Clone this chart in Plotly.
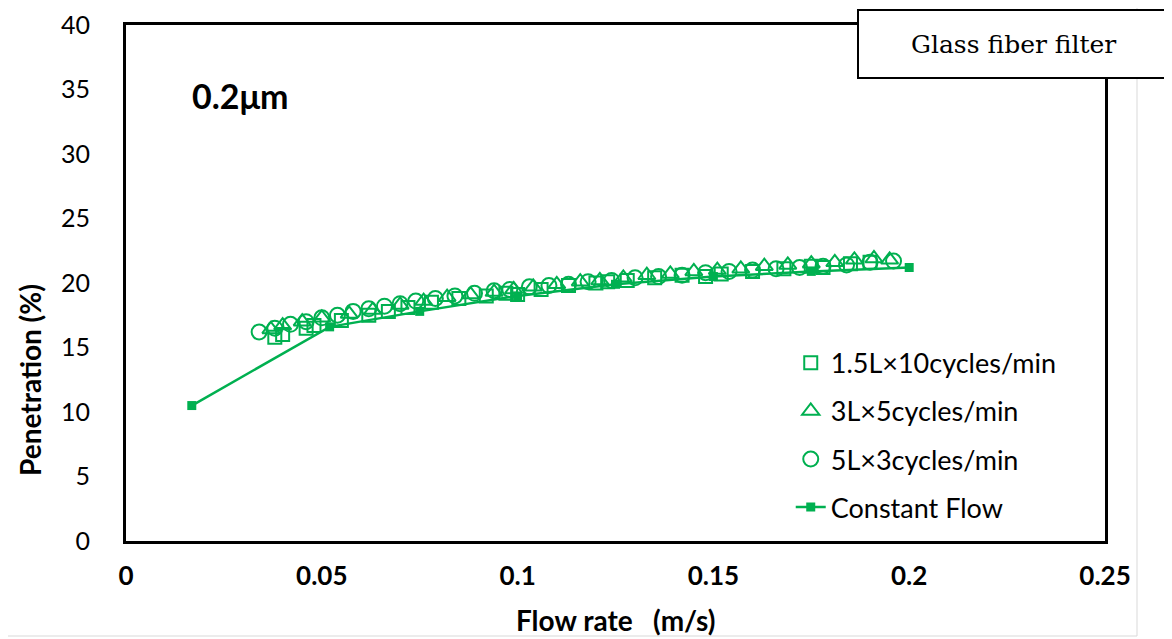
import plotly.graph_objects as go

# ---- data ----
sq_x = [0.038, 0.040, 0.046, 0.048, 0.055, 0.062, 0.067, 0.072, 0.078, 0.085, 0.092, 0.097,
        0.100, 0.106, 0.113, 0.120, 0.123, 0.128, 0.135, 0.142, 0.148, 0.152, 0.160, 0.168,
        0.175, 0.178, 0.185, 0.190]
sq_y = [15.8, 16.0, 16.5, 16.7, 17.1, 17.5, 17.8, 18.1, 18.5, 18.8, 19.0, 19.2,
        19.1, 19.5, 19.8, 20.0, 20.1, 20.2, 20.4, 20.6, 20.5, 20.7, 20.9, 21.1,
        21.3, 21.2, 21.5, 21.6]

tr_x = [0.037, 0.040, 0.045, 0.050, 0.057, 0.063, 0.070, 0.076, 0.082, 0.088, 0.094, 0.099,
        0.104, 0.110, 0.116, 0.121, 0.127, 0.133, 0.139, 0.145, 0.151, 0.157, 0.163, 0.169,
        0.175, 0.181, 0.186, 0.191, 0.195]
tr_y = [16.4, 16.7, 17.0, 17.3, 17.6, 17.9, 18.3, 18.6, 18.9, 19.1, 19.3, 19.5,
        19.7, 19.9, 20.1, 20.2, 20.4, 20.6, 20.7, 20.9, 21.0, 21.1, 21.3, 21.4,
        21.5, 21.6, 21.8, 21.9, 21.8]

ci_x = [0.034, 0.038, 0.042, 0.046, 0.050, 0.054, 0.058, 0.062, 0.066, 0.070, 0.074, 0.079,
        0.084, 0.089, 0.094, 0.098, 0.103, 0.108, 0.113, 0.118, 0.124, 0.130, 0.136, 0.142,
        0.148, 0.154, 0.160, 0.166, 0.172, 0.178, 0.184, 0.190, 0.196]
ci_y = [16.2, 16.5, 16.8, 17.0, 17.3, 17.5, 17.8, 18.0, 18.2, 18.4, 18.6, 18.8,
        19.0, 19.2, 19.4, 19.5, 19.7, 19.8, 19.9, 20.1, 20.2, 20.4, 20.5, 20.6,
        20.8, 20.9, 21.0, 21.1, 21.2, 21.3, 21.4, 21.6, 21.7]

cf_x = [0.0168, 0.052, 0.075, 0.100, 0.125, 0.150, 0.175, 0.200]
cf_y = [10.5, 16.6, 17.8, 19.0, 19.9, 20.5, 20.9, 21.2]

x_ticks = [0, 0.05, 0.1, 0.15, 0.2, 0.25]
x_tick_labels = ["0", "0.05", "0.1", "0.15", "0.2", "0.25"]
y_ticks = [0, 5, 10, 15, 20, 25, 30, 35, 40]

GREEN = "#00B050"
SANS = "Lato, 'Open Sans', sans-serif"

fig = go.Figure()
fig.add_trace(go.Scatter(x=sq_x, y=sq_y, mode="markers", name="1.5L×10cycles/min",
                         legendgroup="a",
                         marker=dict(symbol="square-open", size=13, color=GREEN,
                                     line=dict(width=2, color=GREEN))))
fig.add_trace(go.Scatter(x=tr_x, y=tr_y, mode="markers", name="3L×5cycles/min",
                         legendgroup="b",
                         marker=dict(symbol="triangle-up-open", size=15, color=GREEN,
                                     line=dict(width=2, color=GREEN))))
fig.add_trace(go.Scatter(x=ci_x, y=ci_y, mode="markers", name="5L×3cycles/min",
                         legendgroup="c",
                         marker=dict(symbol="circle-open", size=15, color=GREEN,
                                     line=dict(width=2, color=GREEN))))
fig.add_trace(go.Scatter(x=cf_x, y=cf_y, mode="lines+markers", name="Constant Flow",
                         legendgroup="d",
                         line=dict(color=GREEN, width=2.5),
                         marker=dict(symbol="square", size=9, color=GREEN)))

# page body has an 8px offset; compensate in the margins
OX, OY = 8, 8
TOP = 25  # plot-area top in page pixels (leaves room for the "40" label)
L, T, PW, PH = 126 - OX, TOP - OY, 979, 541 - TOP

fig.update_layout(
    width=1172, height=639,
    margin=dict(l=L, r=1172 - L - PW, t=T, b=639 - T - PH, autoexpand=False),
    paper_bgcolor="white", plot_bgcolor="white",
    font=dict(family=SANS, color="black"),
    showlegend=True,
    legend=dict(x=0.679, y=0.392, xanchor="left", yanchor="top",
                font=dict(size=27, family=SANS, color="black"),
                bgcolor="rgba(0,0,0,0)", tracegroupgap=10, itemwidth=30),
    xaxis=dict(range=[0, 0.25], tickvals=x_ticks, ticktext=x_tick_labels,
               showgrid=False, zeroline=False, showline=True, mirror=True,
               linecolor="black", linewidth=3, ticks="", automargin=False,
               tickfont=dict(size=26, family=SANS, color="black", weight="bold"),
               ticklabelstandoff=10, ticklabeloverflow="allow"),
    yaxis=dict(range=[0, 40], tickvals=y_ticks,
               showgrid=False, zeroline=False, showline=True, mirror=True,
               linecolor="black", linewidth=3, ticks="", automargin=False,
               tickfont=dict(size=25, family=SANS, color="black"),
               ticklabelstandoff=28, ticklabeloverflow="allow"),
)

def px_x(px):
    return (px - 126) / float(PW)

def px_y(py):
    return (541 - py) / float(PH)

# outer light-gray chart frame
fig.add_shape(type="rect", xref="paper", yref="paper",
              x0=px_x(4), x1=px_x(1137), y0=px_y(636), y1=px_y(4),
              line=dict(color="#d9d9d9", width=1), layer="below")

# filter label box
fig.add_shape(type="rect", xref="paper", yref="paper",
              x0=px_x(858), x1=px_x(1168), y0=px_y(78), y1=px_y(10),
              line=dict(color="black", width=2), fillcolor="white", layer="above")
fig.add_annotation(xref="paper", yref="paper", x=px_x(1013), y=px_y(45),
                   xanchor="center", yanchor="middle",
                   text="Glass fiber filter", showarrow=False,
                   font=dict(family="'DejaVu Serif', serif", size=25, color="black"))

fig.add_annotation(xref="paper", yref="paper", x=px_x(190), y=px_y(95),
                   xanchor="left", yanchor="middle", text="<b>0.2μm</b>", showarrow=False,
                   font=dict(family=SANS, size=34, color="black"))

fig.add_annotation(xref="paper", yref="paper", x=px_x(615), y=px_y(620),
                   xanchor="center", yanchor="middle",
                   text="<b>Flow rate   (m/s)</b>", showarrow=False,
                   font=dict(family=SANS, size=28, color="black"))
fig.add_annotation(xref="paper", yref="paper", x=px_x(30), y=px_y(380),
                   xanchor="center", yanchor="middle",
                   text="<b>Penetration (%)</b>", showarrow=False, textangle=-90,
                   font=dict(family=SANS, size=28, color="black"))

fig.write_html("out.html")
